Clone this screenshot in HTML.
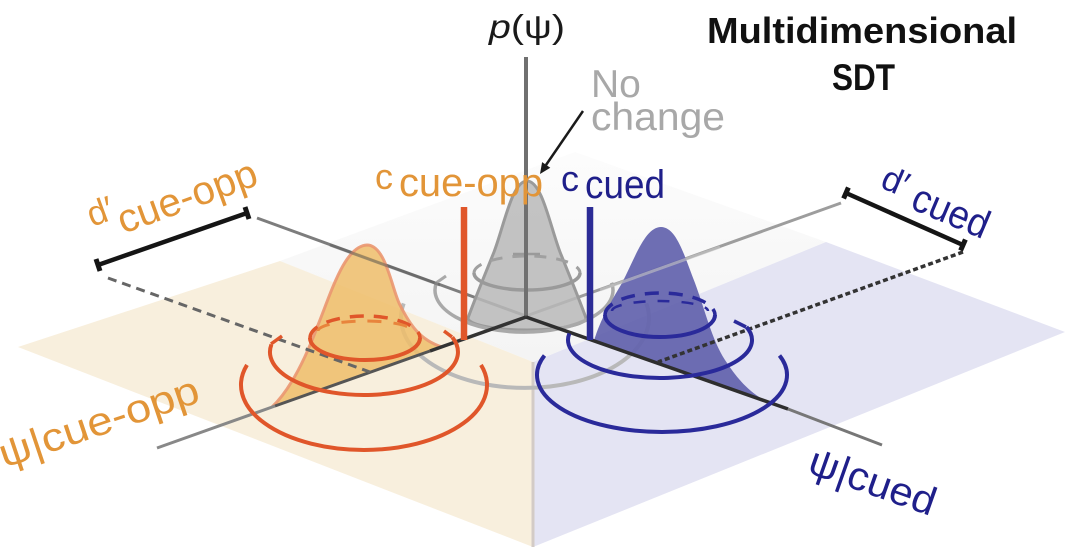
<!DOCTYPE html>
<html><head><meta charset="utf-8"><style>
html,body{margin:0;padding:0;background:#fff;}
svg{display:block;font-family:"Liberation Sans",Arial,sans-serif;}
</style></head><body>
<svg width="1088" height="548" viewBox="0 0 1088 548" xmlns="http://www.w3.org/2000/svg">
<defs>
<linearGradient id="tf" x1="0" y1="1" x2="0" y2="0">
<stop offset="0" stop-color="#f4f4f4"/><stop offset="1" stop-color="#fcfcfc"/>
</linearGradient>
</defs>
<rect width="1088" height="548" fill="#fff"/>
<!-- planes -->
<polygon points="280,261 575,152 826,242 533,362" fill="url(#tf)"/>
<polygon points="18,347 280,261 533,362 533,547" fill="#f8efdd"/>
<polygon points="533,362 826,242 1065,332 533,547" fill="#e4e4f3"/>
<line x1="533" y1="362" x2="533" y2="547" stroke="#d3cbc6" stroke-width="3"/>

<!-- upper axes -->
<line x1="526" y1="316" x2="257" y2="218" stroke="#7d7d7d" stroke-width="3"/>
<line x1="526" y1="316" x2="841" y2="203" stroke="#9d9d9d" stroke-width="3"/>

<!-- gray outer ring -->
<path d="M403.7 303.4 A124 70 0 1 0 646.3 303.4" fill="none" stroke="#b9b9b9" stroke-width="4"/>

<!-- gray bell -->
<path d="M468 318 C476 296,486 272,494 252 C504 226,512 181,527 181 C542 181,550 226,560 252 C568 272,578 296,586 318 A59 12 0 0 1 468 318 Z" fill="#b9b9b9" fill-opacity="0.85" stroke="#9a9a9a" stroke-width="3"/>
<path d="M436.4 282.7 A89 42 0 1 0 611.6 282.7" fill="none" stroke="#a9a9a9" stroke-width="3.5"/>
<path d="M436 283 L446 276" stroke="#a9a9a9" stroke-width="3"/>
<path d="M474 273 A53 17 0 0 0 580 273" fill="none" stroke="#9a9a9a" stroke-width="3.5"/>
<path d="M474 273 A53 17 0 0 1 580 273" fill="none" stroke="#a0a0a0" stroke-width="3" stroke-dasharray="12 10"/>
<line x1="513" y1="254" x2="540" y2="254" stroke="#9a9a9a" stroke-width="2.5"/>

<!-- vertical axis -->
<line x1="526" y1="57" x2="526" y2="317" stroke="#707070" stroke-width="4"/>

<!-- orange bell -->
<path d="M272 407 C290 390,305 360,318 325 C332 290,345 246,367 245 C386 245,392 290,400 305 C410 325,420 340,442 347 Z" fill="#efbd6a" fill-opacity="0.85"/>
<path d="M272 407 C290 390,305 360,318 325 C332 290,345 246,367 245 C386 245,392 290,400 305 C410 325,420 340,442 347" fill="none" stroke="#ea9670" stroke-width="3" stroke-opacity="0.9"/>

<!-- blue bell -->
<path d="M594 341 C600 320,612 300,622 283 C635 258,645 227,661 227 C677 227,685 258,695 283 C705 310,712 340,725 360 C738 380,752 396,773 404 Z" fill="#6262ad" fill-opacity="0.92"/>

<!-- axes crossing over bells -->
<line x1="330" y1="245" x2="440" y2="285" stroke="#5a5a5a" stroke-opacity="0.5" stroke-width="3"/>
<line x1="600" y1="290" x2="720" y2="247" stroke="#c8c8c8" stroke-opacity="0.6" stroke-width="3"/>

<!-- lower axes -->
<line x1="157" y1="448" x2="275" y2="406" stroke="#888" stroke-width="3"/>
<line x1="275" y1="406" x2="430" y2="351" stroke="#555" stroke-width="3"/>
<line x1="430" y1="351" x2="526" y2="317" stroke="#333" stroke-width="3.5"/>
<line x1="526" y1="317" x2="788" y2="409" stroke="#2e2e2e" stroke-width="3.5"/>
<line x1="788" y1="409" x2="882" y2="445" stroke="#777" stroke-width="3"/>

<!-- dashed lines -->
<line x1="108" y1="278" x2="370" y2="372" stroke="#666" stroke-width="3" stroke-dasharray="9 6"/>
<line x1="963" y1="252" x2="658" y2="362" stroke="#333" stroke-width="3.5" stroke-dasharray="5 3"/>

<!-- orange rings -->
<path d="M310 338 A55 22 0 0 0 420 338" fill="none" stroke="#e0562a" stroke-width="4"/>
<path d="M310 338 A55 22 0 0 1 420 338" fill="none" stroke="#e0562a" stroke-width="3.5" stroke-dasharray="14 10"/>
<path d="M318 331 A47 10 0 0 1 412 331" fill="none" stroke="#e8843c" stroke-width="3" stroke-dasharray="14 12"/>
<path d="M271.4 344.5 A94 43 0 1 0 452.3 337.3" fill="none" stroke="#e0562a" stroke-width="4"/>
<path d="M271 344 L282 336" stroke="#e0562a" stroke-width="3.5"/>
<path d="M452 337 L444 331" stroke="#e0562a" stroke-width="3.5"/>
<path d="M247 364.9 A123 65 0 1 0 481 364.9" fill="none" stroke="#e0562a" stroke-width="4"/>

<!-- blue rings -->
<path d="M605 315 A55 22 0 0 0 715 315" fill="none" stroke="#2a2a9a" stroke-width="4"/>
<path d="M605 315 A55 22 0 0 1 715 315" fill="none" stroke="#2a2a9a" stroke-width="3.5" stroke-dasharray="14 10"/>
<path d="M612 311 A48 10 0 0 1 708 311" fill="none" stroke="#2a2a9a" stroke-width="2.5" stroke-dasharray="12 12"/>
<path d="M569.4 333.4 A92 38 0 1 0 746.5 327" fill="none" stroke="#2a2a9a" stroke-width="4"/>
<path d="M746 327 L734 321" stroke="#2a2a9a" stroke-width="3.5"/>
<path d="M544.5 355.5 A125 57 0 1 0 779.5 355.5" fill="none" stroke="#2a2a9a" stroke-width="4"/>

<!-- criterion bars -->
<line x1="464" y1="207" x2="464" y2="340" stroke="#e0562a" stroke-width="6.5"/>
<line x1="590" y1="207" x2="590" y2="340" stroke="#2c2c96" stroke-width="6.5"/>

<!-- d' bars -->
<line x1="98" y1="265" x2="247" y2="213" stroke="#151515" stroke-width="4.5"/>
<line x1="96" y1="259" x2="100" y2="271" stroke="#151515" stroke-width="5"/>
<line x1="245" y1="207" x2="249" y2="219" stroke="#151515" stroke-width="5"/>
<line x1="846" y1="193" x2="963" y2="245" stroke="#151515" stroke-width="4.5"/>
<line x1="848.4" y1="187.5" x2="843.6" y2="198.5" stroke="#151515" stroke-width="5"/>
<line x1="965.4" y1="239.5" x2="960.6" y2="250.5" stroke="#151515" stroke-width="5"/>

<!-- arrow -->
<line x1="583" y1="111" x2="546" y2="165" stroke="#1a1a1a" stroke-width="2.5"/>
<polygon points="540,174 550.3,167.7 542.1,162.1" fill="#1a1a1a"/>

<!-- text -->
<text x="489" y="38" font-size="33" fill="#1a1a1a" textLength="76" lengthAdjust="spacingAndGlyphs"><tspan font-style="italic">p</tspan>(ψ)</text>
<text x="707" y="43" font-size="36" font-weight="bold" fill="#111" textLength="310" lengthAdjust="spacingAndGlyphs">Multidimensional</text>
<text x="832" y="90" font-size="37" font-weight="bold" fill="#111" textLength="63" lengthAdjust="spacingAndGlyphs">SDT</text>
<text x="591" y="97" font-size="39" fill="#a8a8a8">No</text>
<text x="591" y="130" font-size="39" fill="#a8a8a8" textLength="134" lengthAdjust="spacingAndGlyphs">change</text>

<text x="375" y="189" font-size="36" fill="#e29538">c</text>
<text x="399" y="196" font-size="40" fill="#e29538" textLength="144" lengthAdjust="spacingAndGlyphs">cue-opp</text>
<text x="561" y="191" font-size="36" fill="#1f1f8a">c</text>
<text x="585" y="198" font-size="40" fill="#1f1f8a" textLength="80" lengthAdjust="spacingAndGlyphs">cued</text>

<text transform="translate(92,227) rotate(-20)" font-size="35" fill="#e29538">d′</text>
<text transform="translate(123,234) rotate(-20)" font-size="40" fill="#e29538" textLength="146" lengthAdjust="spacingAndGlyphs">cue-opp</text>
<text transform="translate(4,468) rotate(-18.6)" font-size="40" fill="#e29538" textLength="209" lengthAdjust="spacingAndGlyphs">ψ|cue-opp</text>

<text transform="translate(879,187) rotate(23)" font-size="35" fill="#1f1f8a">d′</text>
<text transform="translate(909,208) rotate(23)" font-size="40" fill="#1f1f8a" textLength="80" lengthAdjust="spacingAndGlyphs">cued</text>
<text transform="translate(806,472) rotate(19.5)" font-size="40" fill="#1f1f8a" textLength="132" lengthAdjust="spacingAndGlyphs">ψ|cued</text>
</svg>
</body></html>
